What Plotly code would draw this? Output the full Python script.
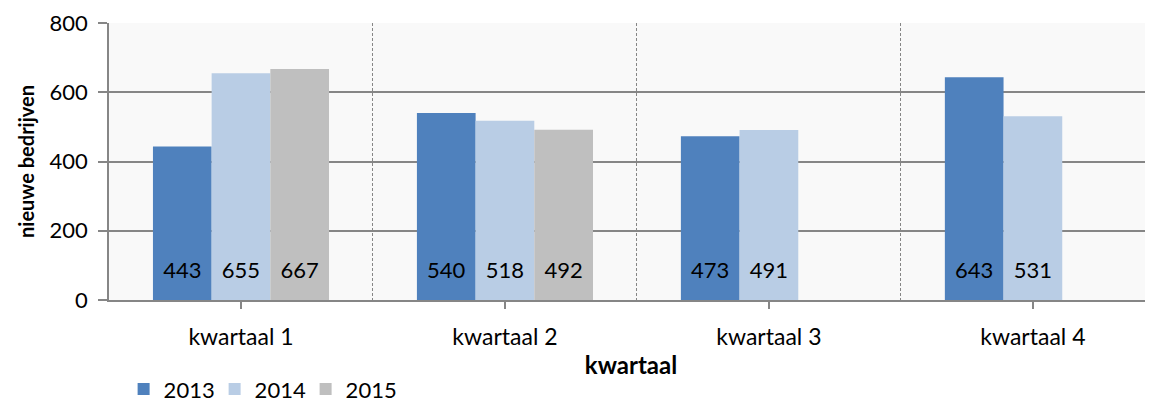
import plotly.graph_objects as go

kwartalen = ["kwartaal 1", "kwartaal 2", "kwartaal 3", "kwartaal 4"]
jaren = ["2013", "2014", "2015"]
v2013 = [443, 540, 473, 643]
v2014 = [655, 518, 491, 531]
v2015 = [667, 492, None, None]
kleuren = ["#4F81BD", "#B9CDE5", "#BFBFBF"]

FONT = "Lato, 'Open Sans', sans-serif"
GRIJS = "#868686"

fig = go.Figure()
for jaar, vals, kleur in zip(jaren, [v2013, v2014, v2015], kleuren):
    fig.add_trace(go.Bar(
        x=kwartalen, y=vals, name=jaar,
        marker=dict(color=kleur, line=dict(width=0)),
        text=[v if v is not None else "" for v in vals],
        # extra lege regel zodat het getal wat boven de basis staat
        texttemplate="<span style='font-size:22px'>%{text}</span><br><span style='font-size:9px'> </span>",
        textposition="inside", insidetextanchor="start",
        textfont=dict(size=13, color="black", family=FONT),
        constraintext="none", textangle=0,
    ))

# lege trace op een tweede x-as, alleen voor de gestippelde scheidingslijnen
fig.add_trace(go.Scatter(x=[], y=[], xaxis="x2", showlegend=False, hoverinfo="skip"))

# de pagina heeft 8px body-marge, daarom 8px kleiner en verschoven
fig.update_layout(
    width=1145, height=397,
    margin=dict(l=101, r=0, t=15, b=105, autoexpand=False),
    paper_bgcolor="white", plot_bgcolor="#F9F9F9",
    barmode="group", bargap=0.333, bargroupgap=0,
    font=dict(family=FONT, size=22, color="black"),
    showlegend=True,
    legend=dict(orientation="h", x=0.014, xanchor="left", y=-0.246, yanchor="top",
                font=dict(size=22), traceorder="normal", itemwidth=30,
                entrywidth=46, entrywidthmode="pixels"),
    xaxis=dict(
        range=[-0.5, 3.455], showgrid=False,
        ticks="outside", ticklen=7, tickcolor=GRIJS, tickwidth=1.5,
        showline=True, linecolor=GRIJS, linewidth=1.5,
        tickfont=dict(size=23), ticklabelstandoff=9, automargin=False,
        title=dict(text="<b>kwartaal</b>", font=dict(size=24), standoff=8),
    ),
    xaxis2=dict(
        overlaying="x", type="linear", range=[-0.5, 3.455],
        tickvals=[0.5, 1.5, 2.5], showticklabels=False, ticks="",
        showgrid=True, gridcolor=GRIJS, griddash="3px,2px", gridwidth=1,
        zeroline=False, showline=False, automargin=False,
    ),
    yaxis=dict(
        range=[0, 800], dtick=200, showgrid=True, gridcolor=GRIJS, gridwidth=1.5,
        showline=True, linecolor=GRIJS, linewidth=1.5, zeroline=False,
        ticks="outside", ticklen=9, tickcolor=GRIJS, tickwidth=1.5,
        tickfont=dict(size=22), ticklabelstandoff=6, automargin=False,
        title=dict(text="<b>nieuwe bedrijven</b>", font=dict(size=20), standoff=10),
    ),
)

fig.write_html("out.html")
